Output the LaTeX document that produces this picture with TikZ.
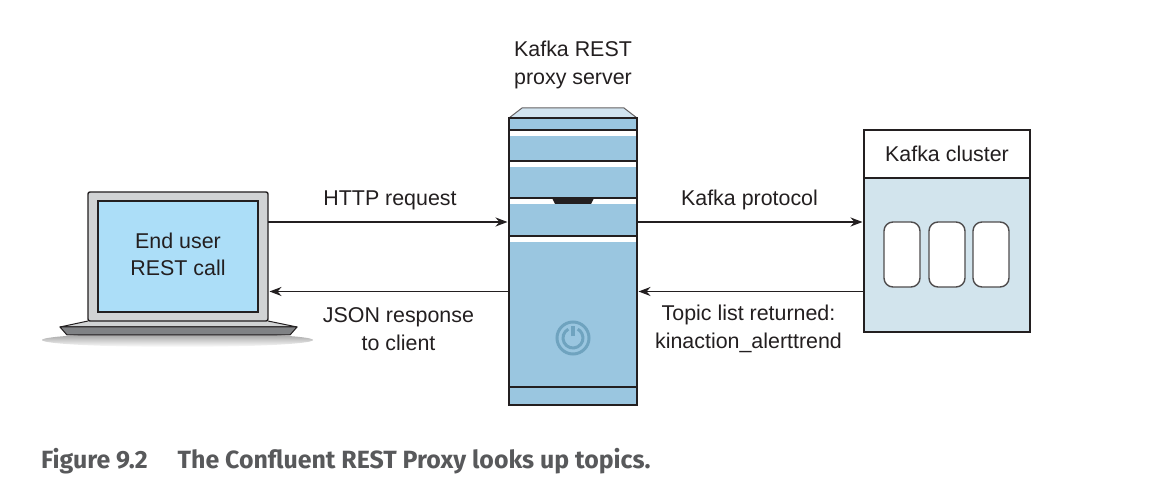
\documentclass[tikz,border=0pt]{standalone}
\usepackage{fontspec}
\setmainfont{Liberation Sans}
\newfontfamily\capfont{Fira Sans}[BoldFont={Fira Sans Bold}]
\usetikzlibrary{arrows.meta,calc}
\definecolor{ink}{HTML}{231F20}
\definecolor{srvblue}{HTML}{9AC6E0}
\definecolor{topblue}{HTML}{D2E4F0}
\definecolor{scrblue}{HTML}{ACDEF8}
\definecolor{bezel}{HTML}{D1D3D4}
\definecolor{basedark}{HTML}{808285}
\definecolor{clblue}{HTML}{D2E4ED}
\definecolor{pwr}{HTML}{6FA3BF}
\definecolor{capgray}{HTML}{58595B}
\tikzset{
  x=1pt,y=-1pt,
  lbl/.style={align=center,text=ink,font=\fontsize{21.4}{27.6}\selectfont,inner sep=0pt},
  flow/.style={draw=ink,line width=1.6pt,-{Stealth[length=12pt,width=9pt]},shorten >=1.5pt},
  boxline/.style={draw=ink,line width=2.2pt},
  rackbar/.style={draw=ink,line width=2.2pt},
  gap/.style={fill=white,draw=none},
  slot/.style={draw=ink!80,fill=white,line width=1.4pt,rounded corners=9pt,minimum width=36pt,minimum height=65pt,inner sep=0pt,outer sep=0pt},
  block/.style={inner sep=0pt,outer sep=0pt},
}
\begin{document}
\begin{tikzpicture}
\useasboundingbox (0,0) rectangle (1160,502);
\fill[white] (0,0) rectangle (1160,502);
\coordinate (rowA) at (0,222);
\coordinate (rowB) at (0,291.5);
% laptop
\shade[top color=black!40,bottom color=white] (177.5,340) ellipse [x radius=135.5,y radius=7];
\fill[bezel] (88,321) -- (268,321) -- (297,327) -- (60,327) -- cycle;
\draw[ink,line width=1pt,line join=round] (88,321) -- (60,327) -- (297,327) -- (268,321);
\filldraw[fill=basedark,draw=ink,line width=1pt,line join=round] (60,327) -- (297,327) -- (290,335) -- (67,335) -- cycle;
\node[block,boxline,line width=1.4pt,fill=bezel,rounded corners=2pt,minimum width=180pt,minimum height=129pt] (laptop) at (178,256.5) {};
\node[block,draw=ink,line width=1.2pt,fill=scrblue,minimum width=160pt,minimum height=111pt,lbl,inner sep=0pt] (screen) at (178,256.5) {\begin{tabular}{@{}c@{}}End user\\[-1.2pt]REST call\end{tabular}};
% server
\filldraw[fill=topblue,draw=ink!70,line width=1pt,line join=round] (509,118) -- (522,108) -- (624,108) -- (637,118) -- cycle;
\node[block,fill=srvblue,minimum width=128pt,minimum height=287pt] (server) at (573,261.5) {};
\fill[gap] (509,130) rectangle (637,136);
\fill[gap] (509,161) rectangle (637,167);
\fill[gap] (509,198) rectangle (637,204);
\fill[gap] (509,236) rectangle (637,242);
\foreach \yy in {118,130,161,198,236,387}{
  \draw[rackbar] (server.west |- 0,\yy) -- (server.east |- 0,\yy);
}
\draw[boxline] (server.south west) rectangle (server.north east);
\fill[ink] (552,198) -- (594,198) -- (591,204) -- (555,204) -- cycle;
% power symbol
\node[block,circle,draw=pwr,line width=3pt,minimum size=32pt] (pwrring) at (573,338) {};
\begin{scope}[shift={(573,338)},y=1pt]
\draw[pwr,line width=3pt] (118:10) arc[start angle=118,end angle=422,radius=10];
\draw[pwr,line width=4pt] (0,1.5) -- (0,11.5);
\end{scope}
% cluster
\node[block,boxline,fill=clblue,minimum width=166pt,minimum height=202pt] (cluster) at (947,231) {};
\node[block,fill=white,minimum width=164pt,minimum height=47pt,lbl] (clhead) at (947,154) {Kafka cluster};
\draw[boxline] (cluster.north west) rectangle (cluster.south east);
\draw[boxline] (864,178) -- (1030,178);
\node[slot] (s1) at (902,254.5) {};
\node[slot] (s2) at (947,254.5) {};
\node[slot] (s3) at (991,254.5) {};
% connectors
\draw[flow] (laptop.east |- rowA) -- (server.west |- rowA);
\draw[flow] (server.west |- rowB) -- (laptop.east |- rowB);
\draw[flow] (server.east |- rowA) -- (cluster.west |- rowA);
\draw[flow] (cluster.west |- rowB) -- (server.east |- rowB);
% labels
\node[lbl] (t1) at (573,65) {Kafka REST\\proxy server};
\node[lbl] (t2) at (390,200) {HTTP request};
\node[lbl] (t3) at (749.5,200) {Kafka protocol};
\node[lbl] (t4) at (398.5,329) {JSON response\\to client};
\node[lbl] (t5) at (748.5,329) {Topic list returned:\\kinaction\_alerttrend};
\node[inner sep=0pt,anchor=west,text=capgray,font=\capfont\bfseries\fontsize{24.9}{28}\selectfont] (cap) at (41,461) {Figure 9.2\hspace{30pt}The Confluent REST Proxy looks up topics.};
\end{tikzpicture}
\end{document}
